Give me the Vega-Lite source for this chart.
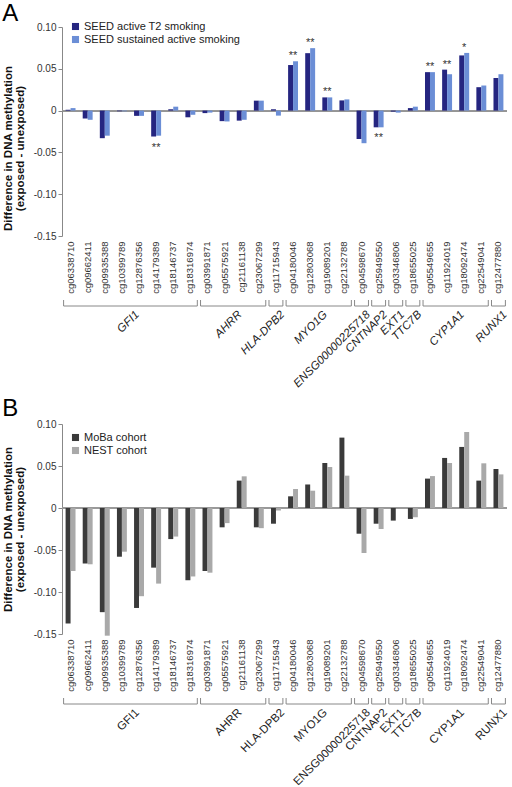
{
  "$schema": "https://vega.github.io/schema/vega-lite/v6.json",
  "padding": {"left": 2, "top": 2, "right": 0, "bottom": 0},
  "autosize": {"type": "pad"},
  "config": {
    "view": {"stroke": null},
    "font": "Liberation Sans",
    "title": {"font": "Liberation Sans"},
    "axis": {"labelFont": "Liberation Sans", "titleFont": "Liberation Sans"},
    "legend": {"labelFont": "Liberation Sans"}
  },
  "resolve": {"scale": {"color": "independent", "xOffset": "independent"}, "legend": {"color": "independent"}},
  "datasets": {
    "a": [
      {"cg": "cg06338710", "SEED active T2 smoking": 0.001, "SEED sustained active smoking": 0.003},
      {"cg": "cg09662411", "SEED active T2 smoking": -0.0095, "SEED sustained active smoking": -0.011},
      {"cg": "cg09935388", "SEED active T2 smoking": -0.033, "SEED sustained active smoking": -0.030},
      {"cg": "cg10399789", "SEED active T2 smoking": -0.0008, "SEED sustained active smoking": -0.0008},
      {"cg": "cg12876356", "SEED active T2 smoking": -0.0063, "SEED sustained active smoking": -0.0063},
      {"cg": "cg14179389", "SEED active T2 smoking": -0.031, "SEED sustained active smoking": -0.030, "sig": "**"},
      {"cg": "cg18146737", "SEED active T2 smoking": 0.0016, "SEED sustained active smoking": 0.0047},
      {"cg": "cg18316974", "SEED active T2 smoking": -0.008, "SEED sustained active smoking": -0.005},
      {"cg": "cg03991871", "SEED active T2 smoking": -0.003, "SEED sustained active smoking": -0.0024},
      {"cg": "cg05575921", "SEED active T2 smoking": -0.0126, "SEED sustained active smoking": -0.013},
      {"cg": "cg21161138", "SEED active T2 smoking": -0.012, "SEED sustained active smoking": -0.011},
      {"cg": "cg23067299", "SEED active T2 smoking": 0.0119, "SEED sustained active smoking": 0.0119},
      {"cg": "cg11715943", "SEED active T2 smoking": 0.0016, "SEED sustained active smoking": -0.006},
      {"cg": "cg04180046", "SEED active T2 smoking": 0.0545, "SEED sustained active smoking": 0.059, "sig": "**"},
      {"cg": "cg12803068", "SEED active T2 smoking": 0.0687, "SEED sustained active smoking": 0.0747, "sig": "**"},
      {"cg": "cg19089201", "SEED active T2 smoking": 0.0158, "SEED sustained active smoking": 0.0158, "sig": "**"},
      {"cg": "cg22132788", "SEED active T2 smoking": 0.0122, "SEED sustained active smoking": 0.0134},
      {"cg": "cg04598670", "SEED active T2 smoking": -0.034, "SEED sustained active smoking": -0.039},
      {"cg": "cg25949550", "SEED active T2 smoking": -0.020, "SEED sustained active smoking": -0.020, "sig": "**"},
      {"cg": "cg03346806", "SEED active T2 smoking": -0.0012, "SEED sustained active smoking": -0.0024},
      {"cg": "cg18655025", "SEED active T2 smoking": 0.003, "SEED sustained active smoking": 0.0047},
      {"cg": "cg05549655", "SEED active T2 smoking": 0.046, "SEED sustained active smoking": 0.046, "sig": "**"},
      {"cg": "cg11924019", "SEED active T2 smoking": 0.049, "SEED sustained active smoking": 0.0435, "sig": "**"},
      {"cg": "cg18092474", "SEED active T2 smoking": 0.066, "SEED sustained active smoking": 0.069, "sig": "*"},
      {"cg": "cg22549041", "SEED active T2 smoking": 0.028, "SEED sustained active smoking": 0.030},
      {"cg": "cg12477880", "SEED active T2 smoking": 0.039, "SEED sustained active smoking": 0.0435}
    ],
    "b": [
      {"cg": "cg06338710", "MoBa cohort": -0.1375, "NEST cohort": -0.075},
      {"cg": "cg09662411", "MoBa cohort": -0.066, "NEST cohort": -0.067},
      {"cg": "cg09935388", "MoBa cohort": -0.124, "NEST cohort": -0.152},
      {"cg": "cg10399789", "MoBa cohort": -0.058, "NEST cohort": -0.052},
      {"cg": "cg12876356", "MoBa cohort": -0.119, "NEST cohort": -0.105},
      {"cg": "cg14179389", "MoBa cohort": -0.071, "NEST cohort": -0.090},
      {"cg": "cg18146737", "MoBa cohort": -0.037, "NEST cohort": -0.034},
      {"cg": "cg18316974", "MoBa cohort": -0.086, "NEST cohort": -0.0815},
      {"cg": "cg03991871", "MoBa cohort": -0.075, "NEST cohort": -0.077},
      {"cg": "cg05575921", "MoBa cohort": -0.023, "NEST cohort": -0.018},
      {"cg": "cg21161138", "MoBa cohort": 0.0326, "NEST cohort": 0.0377},
      {"cg": "cg23067299", "MoBa cohort": -0.023, "NEST cohort": -0.024},
      {"cg": "cg11715943", "MoBa cohort": -0.0187, "NEST cohort": -0.003},
      {"cg": "cg04180046", "MoBa cohort": 0.0139, "NEST cohort": 0.0226},
      {"cg": "cg12803068", "MoBa cohort": 0.028, "NEST cohort": 0.0206},
      {"cg": "cg19089201", "MoBa cohort": 0.0536, "NEST cohort": 0.0488},
      {"cg": "cg22132788", "MoBa cohort": 0.0838, "NEST cohort": 0.0385},
      {"cg": "cg04598670", "MoBa cohort": -0.0306, "NEST cohort": -0.0536},
      {"cg": "cg25949550", "MoBa cohort": -0.0187, "NEST cohort": -0.025},
      {"cg": "cg03346806", "MoBa cohort": -0.015, "NEST cohort": 0},
      {"cg": "cg18655025", "MoBa cohort": -0.013, "NEST cohort": -0.011},
      {"cg": "cg05549655", "MoBa cohort": 0.035, "NEST cohort": 0.038},
      {"cg": "cg11924019", "MoBa cohort": 0.0596, "NEST cohort": 0.0536},
      {"cg": "cg18092474", "MoBa cohort": 0.0727, "NEST cohort": 0.0905},
      {"cg": "cg22549041", "MoBa cohort": 0.0326, "NEST cohort": 0.0532},
      {"cg": "cg12477880", "MoBa cohort": 0.0464, "NEST cohort": 0.040}
    ],
    "genes": [
      {"gene": "GFI1", "first": "cg06338710", "last": "cg18316974", "mid": "cg12876356", "n": 8},
      {"gene": "AHRR", "first": "cg03991871", "last": "cg23067299", "mid": "cg21161138", "n": 4},
      {"gene": "HLA-DPB2", "first": "cg11715943", "last": "cg11715943", "mid": "cg11715943", "n": 1},
      {"gene": "MYO1G", "first": "cg04180046", "last": "cg22132788", "mid": "cg19089201", "n": 4},
      {"gene": "ENSG00000225718", "first": "cg04598670", "last": "cg04598670", "mid": "cg04598670", "n": 1},
      {"gene": "CNTNAP2", "first": "cg25949550", "last": "cg25949550", "mid": "cg25949550", "n": 1},
      {"gene": "EXT1", "first": "cg03346806", "last": "cg03346806", "mid": "cg03346806", "n": 1},
      {"gene": "TTC7B", "first": "cg18655025", "last": "cg18655025", "mid": "cg18655025", "n": 1},
      {"gene": "CYP1A1", "first": "cg05549655", "last": "cg22549041", "mid": "cg18092474", "n": 4},
      {"gene": "RUNX1", "first": "cg12477880", "last": "cg12477880", "mid": "cg12477880", "n": 1}
    ]
  },
  "spacing": 7,
  "vconcat": [
    {
      "spacing": 5,
      "resolve": {"scale": {"color": "independent", "xOffset": "independent"}, "legend": {"color": "independent"}},
      "vconcat": [
        {
          "title": {"text": "A", "anchor": "start", "frame": "bounds", "fontSize": 24, "fontWeight": "normal", "offset": -5, "color": "#000"},
          "width": 445,
          "height": 209,
          "data": {"name": "a"},
          "transform": [{"fold": ["SEED active T2 smoking", "SEED sustained active smoking"], "as": ["cohort", "value"]}],
          "layer": [
            {
              "mark": {"type": "rule", "color": "#999", "strokeWidth": 1},
              "encoding": {"y": {"datum": 0, "type": "quantitative"}}
            },
            {
              "mark": {"type": "bar"},
              "encoding": {
                "x": {"field": "cg", "type": "nominal",
                  "scale": {"domain": ["cg06338710","cg09662411","cg09935388","cg10399789","cg12876356","cg14179389","cg18146737","cg18316974","cg03991871","cg05575921","cg21161138","cg23067299","cg11715943","cg04180046","cg12803068","cg19089201","cg22132788","cg04598670","cg25949550","cg03346806","cg18655025","cg05549655","cg11924019","cg18092474","cg22549041","cg12477880"], "paddingInner": 0.42, "paddingOuter": 0.21},
                  "axis": {"title": null, "labelAngle": -90, "domain": false, "ticks": false, "labelPadding": 5, "labelFontSize": 9.5, "labelColor": "#333"}},
                "xOffset": {"field": "cohort", "type": "nominal", "scale": {"paddingInner": 0, "paddingOuter": 0}},
                "y": {"field": "value", "type": "quantitative",
                  "scale": {"domain": [-0.15, 0.1], "nice": false, "zero": false},
                  "axis": {"values": [-0.15, -0.1, -0.05, 0, 0.05, 0.1], "labelExpr": "datum.value == 0 ? '0' : (datum.value < 0 ? '-' : '') + format(abs(datum.value), '.2f')", "title": ["Difference in DNA methylation", "(exposed - unexposed)"], "titleFontSize": 11.5, "titleFontWeight": "bold", "titleColor": "#111", "titlePadding": 8, "titleLineHeight": 12, "titleY": 121, "grid": false, "domainColor": "#888", "tickColor": "#888", "tickSize": 4, "labelFontSize": 10, "labelColor": "#333"}},
                "color": {"field": "cohort", "type": "nominal", "scale": {"range": ["#252580", "#6b8ed6"]},
                  "legend": {"orient": "none", "legendX": 8, "legendY": -6, "title": null, "symbolType": "square", "symbolSize": 50, "symbolStrokeWidth": 0, "labelFontSize": 11, "labelColor": "#222", "rowPadding": 1, "labelOffset": 3}}
              }
            },
            {
              "transform": [{"filter": "isValid(datum.sig) && datum.value > 0"}],
              "mark": {"type": "text", "baseline": "alphabetic", "dy": -2, "fontSize": 11, "color": "#333"},
              "encoding": {
                "x": {"field": "cg", "type": "nominal"},
                "y": {"aggregate": "max", "field": "value", "type": "quantitative"},
                "text": {"field": "sig"}
              }
            },
            {
              "transform": [{"filter": "isValid(datum.sig) && datum.value < 0"}],
              "mark": {"type": "text", "baseline": "alphabetic", "dy": 14, "fontSize": 11, "color": "#333"},
              "encoding": {
                "x": {"field": "cg", "type": "nominal"},
                "y": {"aggregate": "min", "field": "value", "type": "quantitative"},
                "text": {"field": "sig"}
              }
            }
          ]
        },
        {
          "width": 445,
          "height": 6,
          "data": {"name": "genes"},
          "encoding": {
            "y": {"datum": 0, "type": "quantitative", "scale": {"domain": [0, 1]}, "axis": null}
          },
          "layer": [
            {
              "mark": {"type": "rule", "color": "#888", "strokeWidth": 1},
              "encoding": {
                "x": {"field": "first", "type": "nominal", "bandPosition": -0.2, "axis": null,
                  "scale": {"type": "band", "domain": ["cg06338710","cg09662411","cg09935388","cg10399789","cg12876356","cg14179389","cg18146737","cg18316974","cg03991871","cg05575921","cg21161138","cg23067299","cg11715943","cg04180046","cg12803068","cg19089201","cg22132788","cg04598670","cg25949550","cg03346806","cg18655025","cg05549655","cg11924019","cg18092474","cg22549041","cg12477880"], "paddingInner": 0.42, "paddingOuter": 0.21}},
                "x2": {"field": "last", "bandPosition": 1.2}
              }
            },
            {
              "mark": {"type": "rule", "color": "#888", "strokeWidth": 1},
              "encoding": {
                "x": {"field": "first", "type": "nominal", "bandPosition": -0.2},
                "y2": {"datum": 1}
              }
            },
            {
              "mark": {"type": "rule", "color": "#888", "strokeWidth": 1},
              "encoding": {
                "x": {"field": "last", "type": "nominal", "bandPosition": 1.2},
                "y2": {"datum": 1}
              }
            },
            {
              "transform": [{"filter": "datum.n % 2 == 0"}],
              "mark": {"type": "text", "align": "right", "baseline": "top", "angle": 315, "dy": 4, "fontSize": 11.5, "fontStyle": "italic", "color": "#222"},
              "encoding": {
                "x": {"field": "mid", "type": "nominal", "bandPosition": -0.36},
                "text": {"field": "gene"}
              }
            },
            {
              "transform": [{"filter": "datum.n % 2 == 1"}],
              "mark": {"type": "text", "align": "right", "baseline": "top", "angle": 315, "dy": 4, "fontSize": 11.5, "fontStyle": "italic", "color": "#222"},
              "encoding": {
                "x": {"field": "mid", "type": "nominal", "bandPosition": 0.5},
                "text": {"field": "gene"}
              }
            }
          ]
        }
      ]
    },
    {
      "spacing": 5,
      "resolve": {"scale": {"color": "independent", "xOffset": "independent"}, "legend": {"color": "independent"}},
      "vconcat": [
        {
          "title": {"text": "B", "anchor": "start", "frame": "bounds", "fontSize": 24, "fontWeight": "normal", "offset": -2, "color": "#000"},
          "width": 445,
          "height": 210,
          "data": {"name": "b"},
          "transform": [{"fold": ["MoBa cohort", "NEST cohort"], "as": ["cohort", "value"]}],
          "layer": [
            {
              "mark": {"type": "rule", "color": "#999", "strokeWidth": 1},
              "encoding": {"y": {"datum": 0, "type": "quantitative"}}
            },
            {
              "mark": {"type": "bar"},
              "encoding": {
                "x": {"field": "cg", "type": "nominal",
                  "scale": {"domain": ["cg06338710","cg09662411","cg09935388","cg10399789","cg12876356","cg14179389","cg18146737","cg18316974","cg03991871","cg05575921","cg21161138","cg23067299","cg11715943","cg04180046","cg12803068","cg19089201","cg22132788","cg04598670","cg25949550","cg03346806","cg18655025","cg05549655","cg11924019","cg18092474","cg22549041","cg12477880"], "paddingInner": 0.42, "paddingOuter": 0.21},
                  "axis": {"title": null, "labelAngle": -90, "domain": false, "ticks": false, "labelPadding": 5, "labelFontSize": 9.5, "labelColor": "#333"}},
                "xOffset": {"field": "cohort", "type": "nominal", "scale": {"paddingInner": 0, "paddingOuter": 0}},
                "y": {"field": "value", "type": "quantitative",
                  "scale": {"domain": [-0.15, 0.1], "nice": false, "zero": false},
                  "axis": {"values": [-0.15, -0.1, -0.05, 0, 0.05, 0.1], "labelExpr": "datum.value == 0 ? '0' : (datum.value < 0 ? '-' : '') + format(abs(datum.value), '.2f')", "title": ["Difference in DNA methylation", "(exposed - unexposed)"], "titleFontSize": 11.5, "titleFontWeight": "bold", "titleColor": "#111", "titlePadding": 8, "titleLineHeight": 12, "grid": false, "domainColor": "#888", "tickColor": "#888", "tickSize": 4, "labelFontSize": 10, "labelColor": "#333"}},
                "color": {"field": "cohort", "type": "nominal", "scale": {"range": ["#3a3a3a", "#a9a9a9"]},
                  "legend": {"orient": "none", "legendX": 8, "legendY": 8, "title": null, "symbolType": "square", "symbolSize": 50, "symbolStrokeWidth": 0, "labelFontSize": 11, "labelColor": "#222", "rowPadding": 1, "labelOffset": 3}}
              }
            }
          ]
        },
        {
          "width": 445,
          "height": 6,
          "data": {"name": "genes"},
          "encoding": {
            "y": {"datum": 0, "type": "quantitative", "scale": {"domain": [0, 1]}, "axis": null}
          },
          "layer": [
            {
              "mark": {"type": "rule", "color": "#888", "strokeWidth": 1},
              "encoding": {
                "x": {"field": "first", "type": "nominal", "bandPosition": -0.2, "axis": null,
                  "scale": {"type": "band", "domain": ["cg06338710","cg09662411","cg09935388","cg10399789","cg12876356","cg14179389","cg18146737","cg18316974","cg03991871","cg05575921","cg21161138","cg23067299","cg11715943","cg04180046","cg12803068","cg19089201","cg22132788","cg04598670","cg25949550","cg03346806","cg18655025","cg05549655","cg11924019","cg18092474","cg22549041","cg12477880"], "paddingInner": 0.42, "paddingOuter": 0.21}},
                "x2": {"field": "last", "bandPosition": 1.2}
              }
            },
            {
              "mark": {"type": "rule", "color": "#888", "strokeWidth": 1},
              "encoding": {
                "x": {"field": "first", "type": "nominal", "bandPosition": -0.2},
                "y2": {"datum": 1}
              }
            },
            {
              "mark": {"type": "rule", "color": "#888", "strokeWidth": 1},
              "encoding": {
                "x": {"field": "last", "type": "nominal", "bandPosition": 1.2},
                "y2": {"datum": 1}
              }
            },
            {
              "transform": [{"filter": "datum.n % 2 == 0"}],
              "mark": {"type": "text", "align": "right", "baseline": "top", "angle": 315, "dy": 4, "fontSize": 11.5, "color": "#222"},
              "encoding": {
                "x": {"field": "mid", "type": "nominal", "bandPosition": -0.36},
                "text": {"field": "gene"}
              }
            },
            {
              "transform": [{"filter": "datum.n % 2 == 1"}],
              "mark": {"type": "text", "align": "right", "baseline": "top", "angle": 315, "dy": 4, "fontSize": 11.5, "color": "#222"},
              "encoding": {
                "x": {"field": "mid", "type": "nominal", "bandPosition": 0.5},
                "text": {"field": "gene"}
              }
            }
          ]
        }
      ]
    }
  ]
}
